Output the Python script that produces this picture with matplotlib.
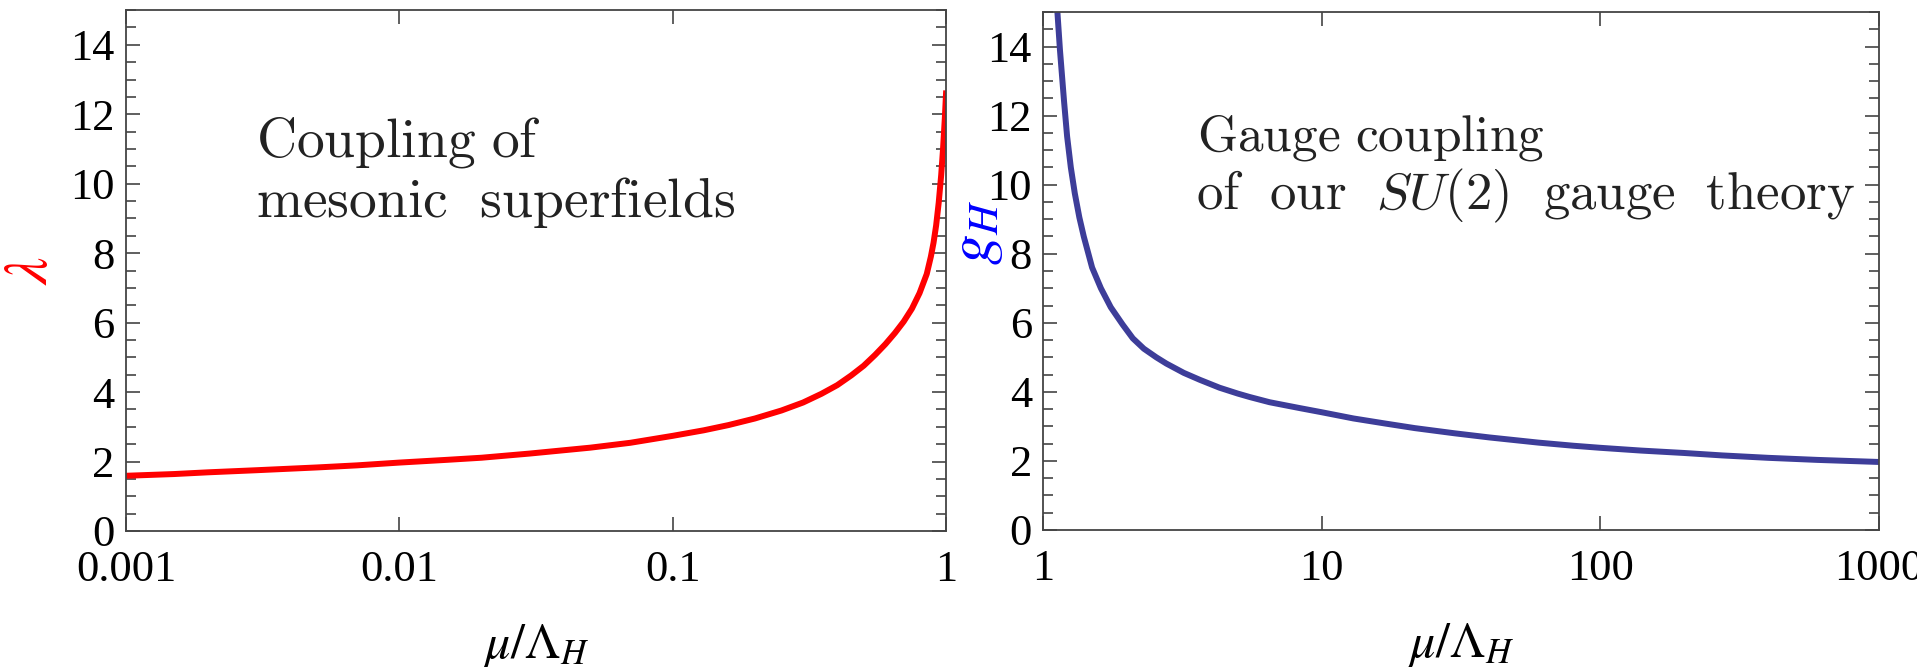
import numpy as np
import matplotlib
matplotlib.use('Agg')
import matplotlib.pyplot as plt
from matplotlib.ticker import FixedLocator, MultipleLocator, NullLocator

# values
mu_left = [0.001, 0.0015, 0.002, 0.003, 0.005, 0.007, 0.01, 0.015, 0.02, 0.03,
           0.05, 0.07, 0.1, 0.13, 0.16, 0.2, 0.25, 0.3, 0.35, 0.4, 0.45, 0.5,
           0.55, 0.6, 0.65, 0.7, 0.75, 0.8, 0.85, 0.88, 0.9, 0.92, 0.94, 0.96,
           0.975, 0.99, 1.0]
lam = [1.59, 1.64, 1.69, 1.75, 1.83, 1.89, 1.97, 2.05, 2.11, 2.23,
       2.40, 2.54, 2.74, 2.90, 3.05, 3.24, 3.47, 3.70, 3.95, 4.20, 4.48, 4.76,
       5.07, 5.38, 5.70, 6.03, 6.40, 6.85, 7.4, 7.9, 8.3, 8.8, 9.45, 10.25,
       11.0, 11.9, 12.6]

mu_right = [1.126, 1.15, 1.19, 1.22, 1.258, 1.3, 1.35, 1.4, 1.5, 1.613, 1.75,
            1.93, 2.1, 2.3, 2.55, 2.77, 3.2, 3.65, 4.3, 5.0, 5.52, 6.5, 8.34,
            10, 13, 17, 21.6, 30, 40, 60, 80, 100, 140, 200, 273, 400, 600, 1000]
g_H = [15.0, 13.9, 12.4, 11.4, 10.5, 9.75, 9.05, 8.5, 7.6, 7.0, 6.45,
       5.95, 5.55, 5.25, 5.0, 4.82, 4.55, 4.35, 4.12, 3.95, 3.85, 3.7, 3.53,
       3.41, 3.23, 3.08, 2.95, 2.8, 2.68, 2.53, 2.44, 2.38, 2.3, 2.23, 2.16,
       2.09, 2.03, 1.97]

left_xticks = [0.001, 0.01, 0.1, 1]
left_xlabels = ['0.001', '0.01', '0.1', '1']
right_xticks = [1, 10, 100, 1000]
right_xlabels = ['1', '10', '100', '1000']

plt.rcParams['font.family'] = ['Liberation Serif', 'DejaVu Serif']
plt.rcParams['mathtext.fontset'] = 'stix'

fig = plt.figure(figsize=(19.17, 6.67), dpi=100)
ax1 = fig.add_axes([0.0657, 0.2039, 0.4278, 0.781])
ax2 = fig.add_axes([0.5441, 0.2054, 0.4361, 0.7766])

def style(ax, ticks, labels):
    ax.set_xscale('log')
    ax.set_ylim(0, 15)
    ax.xaxis.set_major_locator(FixedLocator(ticks))
    ax.xaxis.set_minor_locator(NullLocator())
    ax.set_xticklabels(labels)
    ax.yaxis.set_major_locator(MultipleLocator(2))
    ax.yaxis.set_minor_locator(MultipleLocator(0.5))
    ax.tick_params(which='both', direction='in', top=True, right=True,
                   color='#444444', width=1.2, labelsize=32)
    ax.tick_params(which='major', length=10)
    ax.tick_params(which='minor', length=7)
    ax.tick_params(axis='x', pad=14)
    ax.tick_params(axis='y', pad=8)
    for s in ax.spines.values():
        s.set_color('#444444')
        s.set_linewidth(1.3)

txt = dict(math_fontfamily='cm', va='center', color='#222222')

ax1.plot(mu_left, lam, color='#ff0000', lw=4.3)
ax1.set_xlim(0.001, 1)
style(ax1, left_xticks, left_xlabels)
ax1.set_xlabel(r'$\mu/\Lambda_H$', fontsize=36)
ax1.xaxis.set_label_coords(0.5, -0.175)
ax1.set_ylabel(r'$\lambda$', fontsize=44, color='#ff0000')
ax1.yaxis.set_label_coords(-0.08, 0.5)
ax1.text(0.159, 0.745, r'$\mathrm{Coupling\ of}$', transform=ax1.transAxes,
         fontsize=40, **txt)
ax1.text(0.159, 0.63, r'$\mathrm{mesonic\ \ superfields}$', transform=ax1.transAxes,
         fontsize=40, **txt)

ax2.plot(mu_right, g_H, color='#3d3d99', lw=4.3)
ax2.set_xlim(1, 1000)
style(ax2, right_xticks, right_xlabels)
ax2.set_xlabel(r'$\mu/\Lambda_H$', fontsize=36)
ax2.xaxis.set_label_coords(0.5, -0.175)
ax2.set_ylabel(r'$g_H$', fontsize=44, color='#0000ff')
ax2.yaxis.set_label_coords(-0.045, 0.575)
ax2.text(0.184, 0.757, r'$\mathrm{Gauge\ coupling}$', transform=ax2.transAxes,
         fontsize=37, **txt)
ax2.text(0.183, 0.645, r'$\mathrm{of\ \ our\ \ }SU(2)\mathrm{\ \ gauge\ \ theory}$',
         transform=ax2.transAxes, fontsize=38, **txt)

fig.savefig('out.png', dpi=100)
